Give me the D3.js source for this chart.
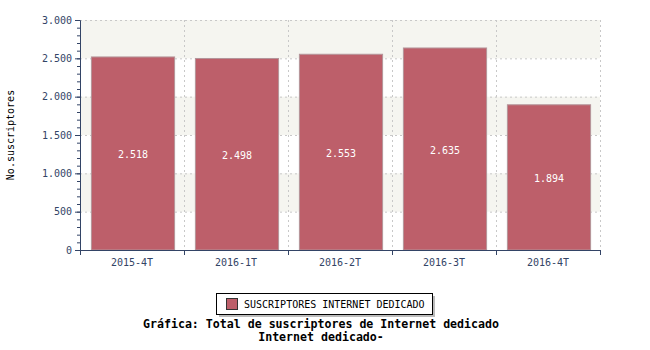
<!DOCTYPE html>
<html>
<head>
<meta charset="utf-8">
<script src="https://cdn.jsdelivr.net/npm/d3@7"></script>
<style>
  body { margin: 0; background: #fff; }
  text { font-family: "DejaVu Sans Mono", monospace; }
</style>
</head>
<body>
<div id="chart"></div>
<script>
// datos
var periodos = ["2015-4T", "2016-1T", "2016-2T", "2016-3T", "2016-4T"];
var suscriptores = [2518, 2498, 2553, 2635, 1894];
var ticksY = [0, 500, 1000, 1500, 2000, 2500, 3000];
var serie = "SUSCRIPTORES INTERNET DEDICADO";

const margin = {top: 20, right: 50, bottom: 100, left: 80},
  width = 650 - margin.left - margin.right,
  height = 350 - margin.top - margin.bottom;

const fmt = d3.format(",");
const num = v => fmt(v).replace(/,/g, ".");

const svg = d3.select("#chart").append("svg")
  .attr("width", 650).attr("height", 350);
const g = svg.append("g").attr("transform", "translate(" + margin.left + "," + margin.top + ")");

const x = d3.scaleBand().domain(periodos).range([0, width]).paddingInner(0.2).paddingOuter(0.1);
const y = d3.scaleLinear().domain([0, 3000]).range([height, 0]);

// bandas alternas
for (let i = 0; i < ticksY.length - 1; i++) {
  if (i % 2 == 1) {
    g.append("rect")
      .attr("x", 0).attr("width", width)
      .attr("y", y(ticksY[i + 1])).attr("height", y(ticksY[i]) - y(ticksY[i + 1]))
      .attr("fill", "#f5f5f0");
  }
}

// rejilla
g.selectAll(".gy").data(ticksY.slice(1)).enter().append("line")
  .attr("x1", 0).attr("x2", width)
  .attr("y1", d => y(d) + 0.5).attr("y2", d => y(d) + 0.5)
  .attr("stroke", "#c8c8c8").attr("stroke-dasharray", "2,3");
const bordes = periodos.map(p => x(p) - x.step() * x.paddingInner() / 2).slice(1).concat([width]);
g.selectAll(".gx").data(bordes).enter().append("line")
  .attr("x1", d => Math.round(d) + 0.5).attr("x2", d => Math.round(d) + 0.5)
  .attr("y1", 0).attr("y2", height)
  .attr("stroke", "#c8c8c8").attr("stroke-dasharray", "2,3");

// barras
g.selectAll(".bar").data(suscriptores).enter().append("rect")
  .attr("x", (d, i) => x(periodos[i]) + 1)
  .attr("width", x.bandwidth())
  .attr("y", d => y(d))
  .attr("height", d => height - y(d))
  .attr("fill", "#bd5f6a")
  .attr("stroke", "#b4959a").attr("stroke-width", 1);

g.selectAll(".lbl").data(suscriptores).enter().append("text")
  .attr("x", (d, i) => x(periodos[i]) + 1 + x.bandwidth() / 2)
  .attr("y", d => (y(d) + height) / 2 + 5)
  .attr("text-anchor", "middle")
  .attr("fill", "#fff").style("font-size", "10px")
  .text(d => num(d));

// ejes
const axisColor = "#334466";
const yAxis = g.append("g")
  .call(d3.axisLeft(y).tickValues(ticksY).tickSize(5).tickFormat(num));
g.append("g")
  .call(d3.axisLeft(y).ticks(30).tickSize(3).tickFormat(""))
  .select(".domain").remove();
const xAxis = g.append("g").attr("transform", "translate(0," + height + ")")
  .call(d3.axisBottom(x).tickSize(0).tickPadding(9));
g.append("g").attr("transform", "translate(0," + height + ")")
  .selectAll("line").data([0].concat(bordes)).enter().append("line")
  .attr("x1", d => Math.round(d) + 0.5).attr("x2", d => Math.round(d) + 0.5)
  .attr("y1", 0).attr("y2", 5).attr("stroke", axisColor);
g.selectAll(".domain").attr("stroke", axisColor);
g.selectAll(".tick line").attr("stroke", axisColor);
g.selectAll(".tick text").attr("fill", axisColor).style("font-family", "DejaVu Sans Mono").style("font-size", "10px");
xAxis.select(".domain").attr("d", "M0,0.5H" + width);

svg.append("text")
  .attr("transform", "translate(14," + (margin.top + height / 2) + ") rotate(-90)")
  .attr("text-anchor", "middle").style("font-size", "10px").attr("fill", "#000")
  .text("No.suscriptores");

// leyenda
const lg = svg.append("g").attr("transform", "translate(216,293)");
lg.append("rect").attr("x", 3).attr("y", 3).attr("width", 216).attr("height", 21).attr("fill", "#bbb");
lg.append("rect").attr("x", 0.5).attr("y", 0.5).attr("width", 216).attr("height", 21)
  .attr("fill", "#fff").attr("stroke", "#000");
lg.append("rect").attr("x", 10.5).attr("y", 5.5).attr("width", 11).attr("height", 11)
  .attr("fill", "#bd5f6a").attr("stroke", "#333");
lg.append("text").attr("x", 28).attr("y", 15).style("font-size", "10px").attr("fill", "#000").text(serie);

svg.append("text").attr("x", 321).attr("y", 328).attr("text-anchor", "middle")
  .style("font-size", "11.6px").style("font-weight", "bold").text("Gráfica: Total de suscriptores de Internet dedicado");
svg.append("text").attr("x", 321).attr("y", 341).attr("text-anchor", "middle")
  .style("font-size", "11.6px").style("font-weight", "bold").text("Internet dedicado-");
</script>
</body>
</html>
